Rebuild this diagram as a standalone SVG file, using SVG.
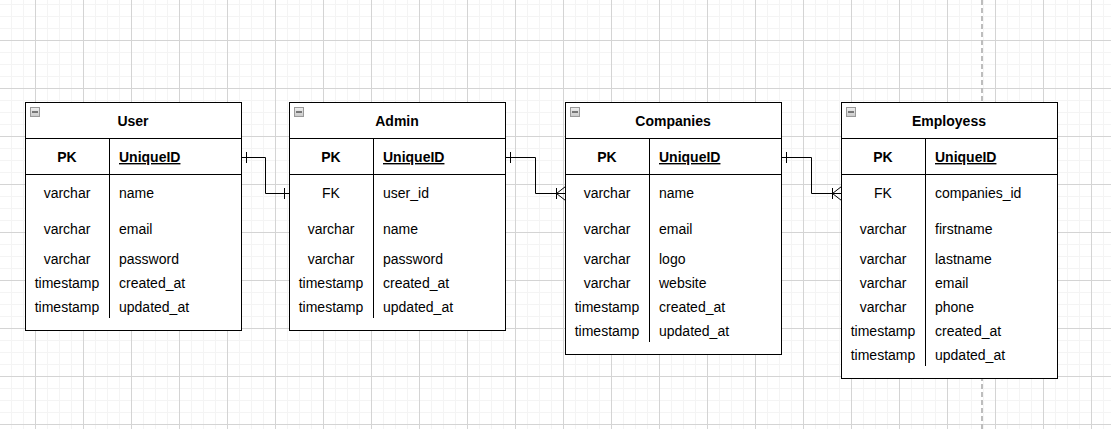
<svg xmlns="http://www.w3.org/2000/svg" width="1111" height="429" viewBox="0 0 1111 429">
<defs>
<pattern id="minor" width="12" height="12" patternUnits="userSpaceOnUse" x="-1" y="4">
<path d="M0.5 0V12M0 0.5H12" stroke="#f4f4f4" stroke-width="1" fill="none"/>
</pattern>
<pattern id="major" width="48" height="48" patternUnits="userSpaceOnUse" x="35" y="40">
<path d="M0.5 0V48M0 0.5H48" stroke="#d4d4d4" stroke-width="1" fill="none"/>
</pattern>
<linearGradient id="icg" x1="0" y1="0" x2="0" y2="1">
<stop offset="0" stop-color="#f0f0f0"/><stop offset="1" stop-color="#c8c8c8"/>
</linearGradient>
</defs>
<style>
.tbl{fill:#fff;stroke:#000;stroke-width:1}
.ln{stroke:#000;stroke-width:1;fill:none}
.t{font-family:"Liberation Sans",Arial,sans-serif;font-size:14px;fill:#000}
.b{font-weight:bold}
.c{text-anchor:middle}
.u{text-decoration:underline}
.ic{fill:url(#icg);stroke:#999;stroke-width:1}
.im{stroke:#333;stroke-width:1.2}
.con{stroke:#000;stroke-width:1;fill:none}
</style>
<rect width="1111" height="429" fill="#fff"/>
<rect width="1111" height="429" fill="url(#minor)"/>
<rect width="1111" height="429" fill="url(#major)"/>
<line x1="982" y1="0" x2="982" y2="429" stroke="#bdbdbd" stroke-width="2" stroke-dasharray="5 3"/>

<g id="user">
<rect class="tbl" x="25.5" y="102.5" width="216" height="228"/>
<rect class="ic" x="30.5" y="107.5" width="9" height="9"/><line class="im" x1="32" y1="112" x2="38" y2="112"/>
<line class="ln" x1="25.5" y1="138.5" x2="241.5" y2="138.5"/>
<line class="ln" x1="25.5" y1="174.5" x2="241.5" y2="174.5"/>
<line class="ln" x1="109.5" y1="138.5" x2="109.5" y2="174.5"/>
<line class="ln" x1="109.5" y1="174.5" x2="109.5" y2="318"/>
<text class="t b c" x="133" y="126">User</text>
<text class="t b c" x="67" y="162">PK</text>
<text class="t b u" x="119" y="162">UniqueID</text>
<text class="t c" x="67" y="198">varchar</text><text class="t" x="119" y="198">name</text>
<text class="t c" x="67" y="234">varchar</text><text class="t" x="119" y="234">email</text>
<text class="t c" x="67" y="264">varchar</text><text class="t" x="119" y="264">password</text>
<text class="t c" x="67" y="288">timestamp</text><text class="t" x="119" y="288">created_at</text>
<text class="t c" x="67" y="312">timestamp</text><text class="t" x="119" y="312">updated_at</text>
</g>

<g id="admin">
<rect class="tbl" x="289.5" y="102.5" width="216" height="228"/>
<rect class="ic" x="294.5" y="107.5" width="9" height="9"/><line class="im" x1="296" y1="112" x2="302" y2="112"/>
<line class="ln" x1="289.5" y1="138.5" x2="505.5" y2="138.5"/>
<line class="ln" x1="289.5" y1="174.5" x2="505.5" y2="174.5"/>
<line class="ln" x1="373.5" y1="138.5" x2="373.5" y2="174.5"/>
<line class="ln" x1="373.5" y1="174.5" x2="373.5" y2="318"/>
<text class="t b c" x="397" y="126">Admin</text>
<text class="t b c" x="331" y="162">PK</text>
<text class="t b u" x="383" y="162">UniqueID</text>
<text class="t c" x="331" y="198">FK</text><text class="t" x="383" y="198">user_id</text>
<text class="t c" x="331" y="234">varchar</text><text class="t" x="383" y="234">name</text>
<text class="t c" x="331" y="264">varchar</text><text class="t" x="383" y="264">password</text>
<text class="t c" x="331" y="288">timestamp</text><text class="t" x="383" y="288">created_at</text>
<text class="t c" x="331" y="312">timestamp</text><text class="t" x="383" y="312">updated_at</text>
</g>

<g id="companies">
<rect class="tbl" x="565.5" y="102.5" width="216" height="252"/>
<rect class="ic" x="570.5" y="107.5" width="9" height="9"/><line class="im" x1="572" y1="112" x2="578" y2="112"/>
<line class="ln" x1="565.5" y1="138.5" x2="781.5" y2="138.5"/>
<line class="ln" x1="565.5" y1="174.5" x2="781.5" y2="174.5"/>
<line class="ln" x1="649.5" y1="138.5" x2="649.5" y2="174.5"/>
<line class="ln" x1="649.5" y1="174.5" x2="649.5" y2="342"/>
<text class="t b c" x="673" y="126">Companies</text>
<text class="t b c" x="607" y="162">PK</text>
<text class="t b u" x="659" y="162">UniqueID</text>
<text class="t c" x="607" y="198">varchar</text><text class="t" x="659" y="198">name</text>
<text class="t c" x="607" y="234">varchar</text><text class="t" x="659" y="234">email</text>
<text class="t c" x="607" y="264">varchar</text><text class="t" x="659" y="264">logo</text>
<text class="t c" x="607" y="288">varchar</text><text class="t" x="659" y="288">website</text>
<text class="t c" x="607" y="312">timestamp</text><text class="t" x="659" y="312">created_at</text>
<text class="t c" x="607" y="336">timestamp</text><text class="t" x="659" y="336">updated_at</text>
</g>

<g id="employess">
<rect class="tbl" x="841.5" y="102.5" width="216" height="276"/>
<rect class="ic" x="846.5" y="107.5" width="9" height="9"/><line class="im" x1="848" y1="112" x2="854" y2="112"/>
<line class="ln" x1="841.5" y1="138.5" x2="1057.5" y2="138.5"/>
<line class="ln" x1="841.5" y1="174.5" x2="1057.5" y2="174.5"/>
<line class="ln" x1="925.5" y1="138.5" x2="925.5" y2="174.5"/>
<line class="ln" x1="925.5" y1="174.5" x2="925.5" y2="366"/>
<text class="t b c" x="949" y="126">Employess</text>
<text class="t b c" x="883" y="162">PK</text>
<text class="t b u" x="935" y="162">UniqueID</text>
<text class="t c" x="883" y="198">FK</text><text class="t" x="935" y="198">companies_id</text>
<text class="t c" x="883" y="234">varchar</text><text class="t" x="935" y="234">firstname</text>
<text class="t c" x="883" y="264">varchar</text><text class="t" x="935" y="264">lastname</text>
<text class="t c" x="883" y="288">varchar</text><text class="t" x="935" y="288">email</text>
<text class="t c" x="883" y="312">varchar</text><text class="t" x="935" y="312">phone</text>
<text class="t c" x="883" y="336">timestamp</text><text class="t" x="935" y="336">created_at</text>
<text class="t c" x="883" y="360">timestamp</text><text class="t" x="935" y="360">updated_at</text>
</g>

<g id="connectors">
<path class="con" d="M241.5 157.5H265.5V193.5H289.5"/>
<path class="con" d="M246.5 152V163M284.5 188V199"/>
<path class="con" d="M505.5 157.5H535.5V193.5H565.5"/>
<path class="con" d="M510.5 152V163M556.5 188V199M565.5 186.5L556.5 193.5L565.5 200.5"/>
<path class="con" d="M781.5 157.5H811.5V193.5H841.5"/>
<path class="con" d="M786.5 152V163M832.5 188V199M841.5 186.5L832.5 193.5L841.5 200.5"/>
</g>
</svg>
